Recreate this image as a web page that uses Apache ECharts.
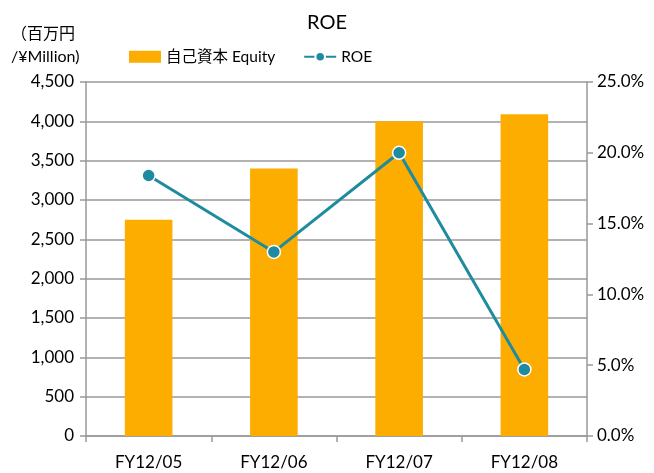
<!DOCTYPE html>
<html><head><meta charset="utf-8">
<script src="https://cdn.jsdelivr.net/npm/echarts@6/dist/echarts.min.js"></script>
<style>html,body{margin:0;padding:0;background:#fff}#c{width:654px;height:473px}</style>
</head><body><div id="c"></div>
<script>
const categories = ['FY12/05', 'FY12/06', 'FY12/07', 'FY12/08'];
const equity = [2750, 3400, 4000, 4090];
const roe = [18.4, 13.0, 20.0, 4.7];
const leftTicks = { min: 0, max: 4500, interval: 500 };
const rightTicks = { min: 0, max: 25, interval: 5 };
const FONT = 'Lato, "Noto Sans CJK JP", sans-serif';

const chart = echarts.init(document.getElementById('c'), null, { renderer: 'canvas' });
chart.setOption({
  animation: false,
  textStyle: { fontFamily: FONT },
  title: { text: 'ROE', left: 'center', top: 8, textStyle: { fontFamily: FONT, fontSize: 20, fontWeight: 'normal', color: '#000' } },
  legend: {
    top: 44, left: 124, itemGap: 28, itemWidth: 32, itemHeight: 12,
    textStyle: { fontFamily: FONT, fontSize: 15.5, color: '#000' },
    data: [
      { name: '自己資本 Equity', icon: 'rect' },
      { name: 'ROE' }
    ]
  },
  grid: { left: 86, right: 67, top: 82, bottom: 37, containLabel: false },
  xAxis: {
    type: 'category', data: categories,
    axisLine: { lineStyle: { color: '#999', width: 1.5 } },
    axisTick: { show: true, length: 6, lineStyle: { color: '#999', width: 1.5 } },
    axisLabel: { color: '#000', fontSize: 17, margin: 18, fontFamily: FONT }
  },
  yAxis: [
    {
      type: 'value', min: leftTicks.min, max: leftTicks.max, interval: leftTicks.interval,
      name: '（百万円\n/¥Million)', nameLocation: 'end', nameGap: 0,
      nameTextStyle: { align: 'left', verticalAlign: 'bottom', padding: [0, 0, 5, -75], color: '#000', fontSize: 16, lineHeight: 23, fontFamily: FONT },
      axisLine: { show: true, lineStyle: { color: '#999', width: 1.5 } },
      axisTick: { show: true, length: 6, lineStyle: { color: '#999', width: 1.5 } },
      axisLabel: { color: '#000', fontSize: 17, margin: 12, fontFamily: FONT,
        formatter: v => v.toLocaleString('en-US') },
      splitLine: { lineStyle: { color: '#999', width: 1.5 } }
    },
    {
      type: 'value', min: rightTicks.min, max: rightTicks.max, interval: rightTicks.interval,
      position: 'right',
      axisLine: { show: true, lineStyle: { color: '#999', width: 1.5 } },
      axisTick: { show: true, length: 6, lineStyle: { color: '#999', width: 1.5 } },
      axisLabel: { color: '#000', fontSize: 17, margin: 10, fontFamily: FONT,
        formatter: v => v.toFixed(1) + '%' },
      splitLine: { show: false }
    }
  ],
  series: [
    {
      name: '自己資本 Equity', type: 'bar', data: equity, yAxisIndex: 0,
      barWidth: '38%', itemStyle: { color: '#FDAC00' }
    },
    {
      name: 'ROE', type: 'line', data: roe, yAxisIndex: 1,
      symbol: 'circle', symbolSize: 13,
      lineStyle: { color: '#1F8B9F', width: 3 },
      itemStyle: { color: '#1F8B9F', borderColor: '#fff', borderWidth: 1.5 }
    }
  ]
});
</script></body></html>
